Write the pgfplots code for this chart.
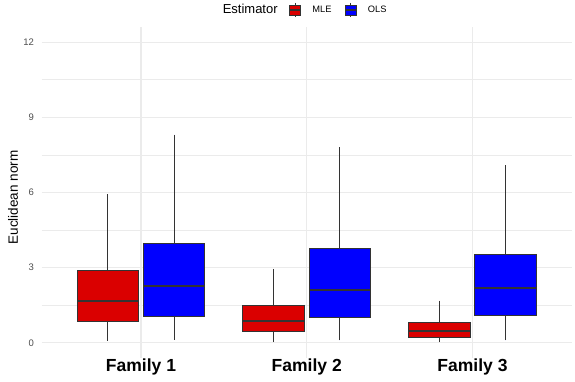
\documentclass[border=0pt]{standalone}
\usepackage{pgfplots}
\pgfplotsset{compat=1.18}
\usepgfplotslibrary{statistics}
\usepackage{fontspec}
\setmainfont{Liberation Sans}
\definecolor{mlered}{RGB}{218,0,0}
\definecolor{olsblue}{RGB}{0,0,255}
\definecolor{gridc}{RGB}{235,235,235}
\definecolor{boxline}{RGB}{51,51,51}
\definecolor{ticktext}{RGB}{77,77,77}
\begin{document}
\begin{tikzpicture}
\useasboundingbox (-41.55pt,-24pt) rectangle (533.45pt,358pt);
\begin{axis}[
  scale only axis, width=530.4pt, height=331pt,
  xmin=0.4, xmax=3.6, ymin=-0.6, ymax=12.6,
  axis line style={draw=none}, major tick length=0pt, minor tick length=0pt,
  xtick={1,2,3}, xticklabels={Family 1, Family 2, Family 3},
  ytick={0,3,6,9,12}, minor ytick={1.5,4.5,7.5,10.5},
  xmajorgrids, ymajorgrids, yminorgrids,
  major grid style={draw=gridc, line width=1.07pt},
  minor grid style={draw=gridc, line width=0.53pt},
  /pgf/number format/assume math mode=true,
  xticklabel style={font=\bfseries\fontsize{17.5}{20}\selectfont, text=black, anchor=base, inner sep=0pt, yshift=-13.7pt},
  yticklabel style={font=\fontsize{9.5}{11}\selectfont, text=ticktext, anchor=east, inner sep=0pt, xshift=-7.5pt},
  ylabel={Euclidean norm},
  every axis y label/.style={at={(axis description cs:-0.0537,0.485)}, rotate=90, anchor=center, font=\fontsize{13.5}{15}\selectfont},
  title={Estimator},
  every axis title/.style={at={(axis description cs:0.3934,1)}, anchor=base, yshift=13pt, font=\fontsize{13}{15}\selectfont},
  legend style={at={(axis description cs:0.4665,1.0514)}, anchor=west, draw=none, fill=none, inner sep=0pt, outer sep=0pt,
    font=\fontsize{9.3}{10}\selectfont, legend columns=-1,
    /tikz/every even column/.append style={column sep=11pt},
    /tikz/every odd column/.append style={column sep=9pt}},
  legend image code/.code={
    \draw[#1, draw=boxline, line width=0.8pt] (0pt,-5pt) rectangle (11pt,5pt);
    \draw[boxline, line width=1.4pt] (0pt,0pt) -- (11pt,0pt);
    \draw[boxline, line width=0.8pt] (5.5pt,5pt) -- (5.5pt,7pt) (5.5pt,-5pt) -- (5.5pt,-7pt);
  },
  boxplot/draw direction=y,
  boxplot/box extend=0.37,
  boxplot/whisker extend=0,
  boxplot/every median/.style={line width=2pt, draw=boxline},
  boxplot/every box/.style={line width=1pt, draw=boxline},
  boxplot/every whisker/.style={line width=1pt, draw=boxline},
]
% Family 1
\addplot[forget plot, fill=mlered, draw=boxline, boxplot prepared={draw position=0.8, lower whisker=0.08, lower quartile=0.85, median=1.69, upper quartile=2.88, upper whisker=5.93}] coordinates {};
\addplot[forget plot, fill=olsblue, draw=boxline, boxplot prepared={draw position=1.2, lower whisker=0.12, lower quartile=1.04, median=2.27, upper quartile=3.96, upper whisker=8.31}] coordinates {};
% Family 2
\addplot[forget plot, fill=mlered, draw=boxline, boxplot prepared={draw position=1.8, lower whisker=0.04, lower quartile=0.44, median=0.89, upper quartile=1.48, upper whisker=2.95}] coordinates {};
\addplot[forget plot, fill=olsblue, draw=boxline, boxplot prepared={draw position=2.2, lower whisker=0.10, lower quartile=1.01, median=2.13, upper quartile=3.75, upper whisker=7.80}] coordinates {};
% Family 3
\addplot[forget plot, fill=mlered, draw=boxline, boxplot prepared={draw position=2.8, lower whisker=0.03, lower quartile=0.21, median=0.48, upper quartile=0.82, upper whisker=1.69}] coordinates {};
\addplot[forget plot, fill=olsblue, draw=boxline, boxplot prepared={draw position=3.2, lower whisker=0.10, lower quartile=1.08, median=2.19, upper quartile=3.52, upper whisker=7.08}] coordinates {};
\addlegendimage{fill=mlered}
\addlegendentry{MLE}
\addlegendimage{fill=olsblue}
\addlegendentry{OLS}
\end{axis}
\end{tikzpicture}
\end{document}
